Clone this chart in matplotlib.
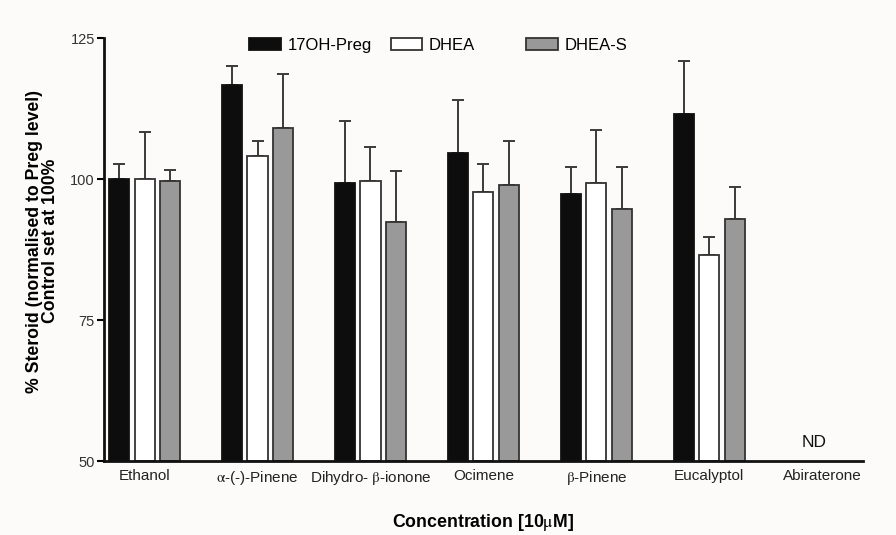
import matplotlib
matplotlib.use("Agg")
import matplotlib.pyplot as plt
import numpy as np
from matplotlib.patches import Patch

plt.rcParams['font.family'] = ['Liberation Sans', 'DejaVu Sans']
plt.rcParams['mathtext.fontset'] = 'stix'

categories = ['Ethanol', r'$\mathrm{\alpha}$-(-)-Pinene', r'Dihydro- $\mathrm{\beta}$-ionone', 'Ocimene',
              r'$\mathrm{\beta}$-Pinene', 'Eucalyptol', 'Abiraterone']
series_names = ['17OH-Preg', 'DHEA', 'DHEA-S']
preg17 = [100.0, 116.7, 99.4, 104.7, 97.4, 111.6, np.nan]
dhea = [100.0, 104.1, 99.7, 97.7, 99.4, 86.6, np.nan]
dheas = [99.7, 109.0, 92.4, 99.0, 94.7, 93.0, np.nan]
preg17_err = [2.7, 3.3, 11.0, 9.3, 4.7, 9.4, np.nan]
dhea_err = [8.3, 2.6, 6.0, 5.0, 9.3, 3.1, np.nan]
dheas_err = [2.0, 9.7, 9.0, 7.8, 7.4, 5.6, np.nan]
nd_label = 'ND'

bg = '#fdfbfa'
fig = plt.figure(figsize=(8.96, 5.35), dpi=100, facecolor=bg)
ax = fig.add_axes([0.116, 0.1383, 0.847, 0.7901])
ax.set_facecolor(bg)

x = np.arange(len(categories))
step = 0.224
width = 0.178
fills = ['#0d0d0d', '#ffffff', '#999999']
edges = ['#111111', '#333333', '#333333']
vals = [preg17, dhea, dheas]
errs = [preg17_err, dhea_err, dheas_err]
for i in range(3):
    v = np.array(vals[i], dtype=float)
    e = np.array(errs[i], dtype=float)
    pos = x + (i - 1) * step
    ax.bar(pos, v - 50, bottom=50, width=width, color=fills[i], edgecolor=edges[i],
           linewidth=1.3, zorder=2)
    ax.errorbar(pos, v, yerr=[np.zeros_like(e), e], fmt='none', ecolor='#3a3a3a',
                elinewidth=1.4, capsize=4, capthick=1.4, zorder=1)

ax.text(x[6] - 0.07, 53.3, nd_label, ha='center', va='center', fontsize=12.5, color='#111111')

ax.set_xlim(-0.36, 6.36)
ax.set_ylim(50, 125)
ax.set_yticks([50, 75, 100, 125])
ax.set_xticks(x)
ax.set_xticklabels(categories, fontsize=11, color='#222222')
ax.tick_params(axis='x', length=0, pad=6.0)
ax.tick_params(axis='y', length=5, width=1.5, pad=1.5, labelsize=10.5, labelcolor='#333333')
for s in ['top', 'right']:
    ax.spines[s].set_visible(False)
for s in ['left', 'bottom']:
    ax.spines[s].set_linewidth(2)
    ax.spines[s].set_color('#111111')

ax.set_ylabel('% Steroid (normalised to Preg level)\nControl set at 100%', fontsize=12.7,
              fontweight='bold', linespacing=0.95)
ax.yaxis.set_label_coords(-0.0593, 0.52)
ax.set_xlabel(r'Concentration [10$\mathrm{\mu}$M]', fontsize=12.8, fontweight='bold', labelpad=17.5)

# legend entries placed individually
leg_x = [0.288, 0.446, 0.597]
for i in range(3):
    h = Patch(facecolor=fills[i], edgecolor=edges[i], linewidth=1.3)
    leg = fig.legend([h], [series_names[i]], loc='center left',
                     bbox_to_anchor=(leg_x[i] - 0.01, 0.915), frameon=False,
                     fontsize=12, handlelength=1.9, handleheight=0.72,
                     handletextpad=0.4, borderpad=0, borderaxespad=0)

fig.savefig('out.png', dpi=100, facecolor=bg)
